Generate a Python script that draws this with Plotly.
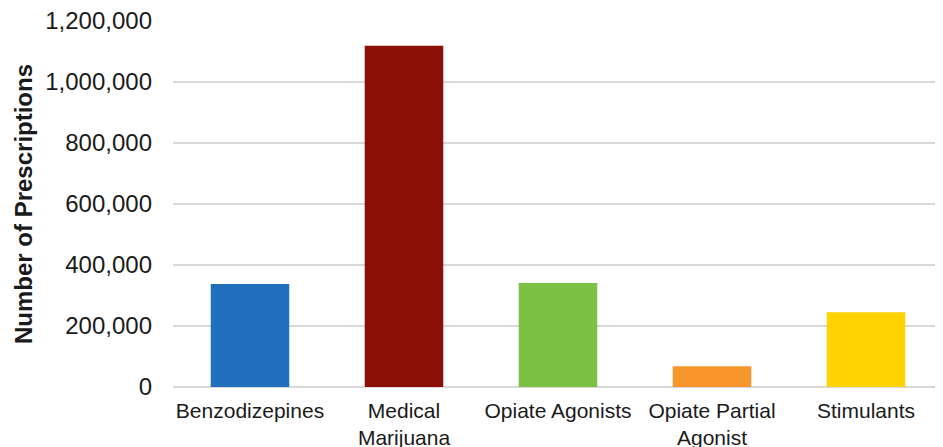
import plotly.graph_objects as go

categories = [
    "Benzodizepines",
    "Medical<br>Marijuana",
    "Opiate Agonists",
    "Opiate Partial<br>Agonist",
    "Stimulants",
]
prescriptions = [338000, 1119000, 341000, 68000, 245000]
bar_colors = ["#1F6FBD", "#8B0F05", "#7CC144", "#F7962A", "#FFD203"]
y_ticks = [0, 200000, 400000, 600000, 800000, 1000000, 1200000]

FONT = "Arial, Liberation Sans, sans-serif"

fig = go.Figure(
    go.Bar(
        x=categories,
        y=prescriptions,
        marker_color=bar_colors,
        marker_line_width=0,
        width=0.51,
    )
)

# page body keeps its default 8px margin, so the figure is sized to fit inside it
fig.update_layout(
    width=935,
    height=439,
    paper_bgcolor="white",
    plot_bgcolor="white",
    margin=dict(l=165, r=0, t=13, b=60),
    showlegend=False,
    font=dict(family=FONT, color="#1a1a1a"),
)
fig.update_xaxes(
    automargin=False,
    tickfont=dict(size=21, family=FONT, color="#1a1a1a"),
    showline=False,
    ticks="",
    ticklabelstandoff=9,
    ticklabeloverflow="allow",
)
fig.update_yaxes(
    automargin=False,
    range=[0, 1200000],
    tickvals=y_ticks,
    tickformat=",d",
    tickfont=dict(size=24, family=FONT, color="#1a1a1a"),
    gridcolor="#d9d9d9",
    gridwidth=1.5,
    zeroline=True,
    zerolinecolor="#d9d9d9",
    zerolinewidth=1.5,
    ticklabelstandoff=20,
    ticklabeloverflow="allow",
    title=dict(
        text="<b>Number of Prescriptions</b>",
        font=dict(size=24, family=FONT, color="#1a1a1a"),
        standoff=5,
    ),
)

fig.write_html("out.html")
